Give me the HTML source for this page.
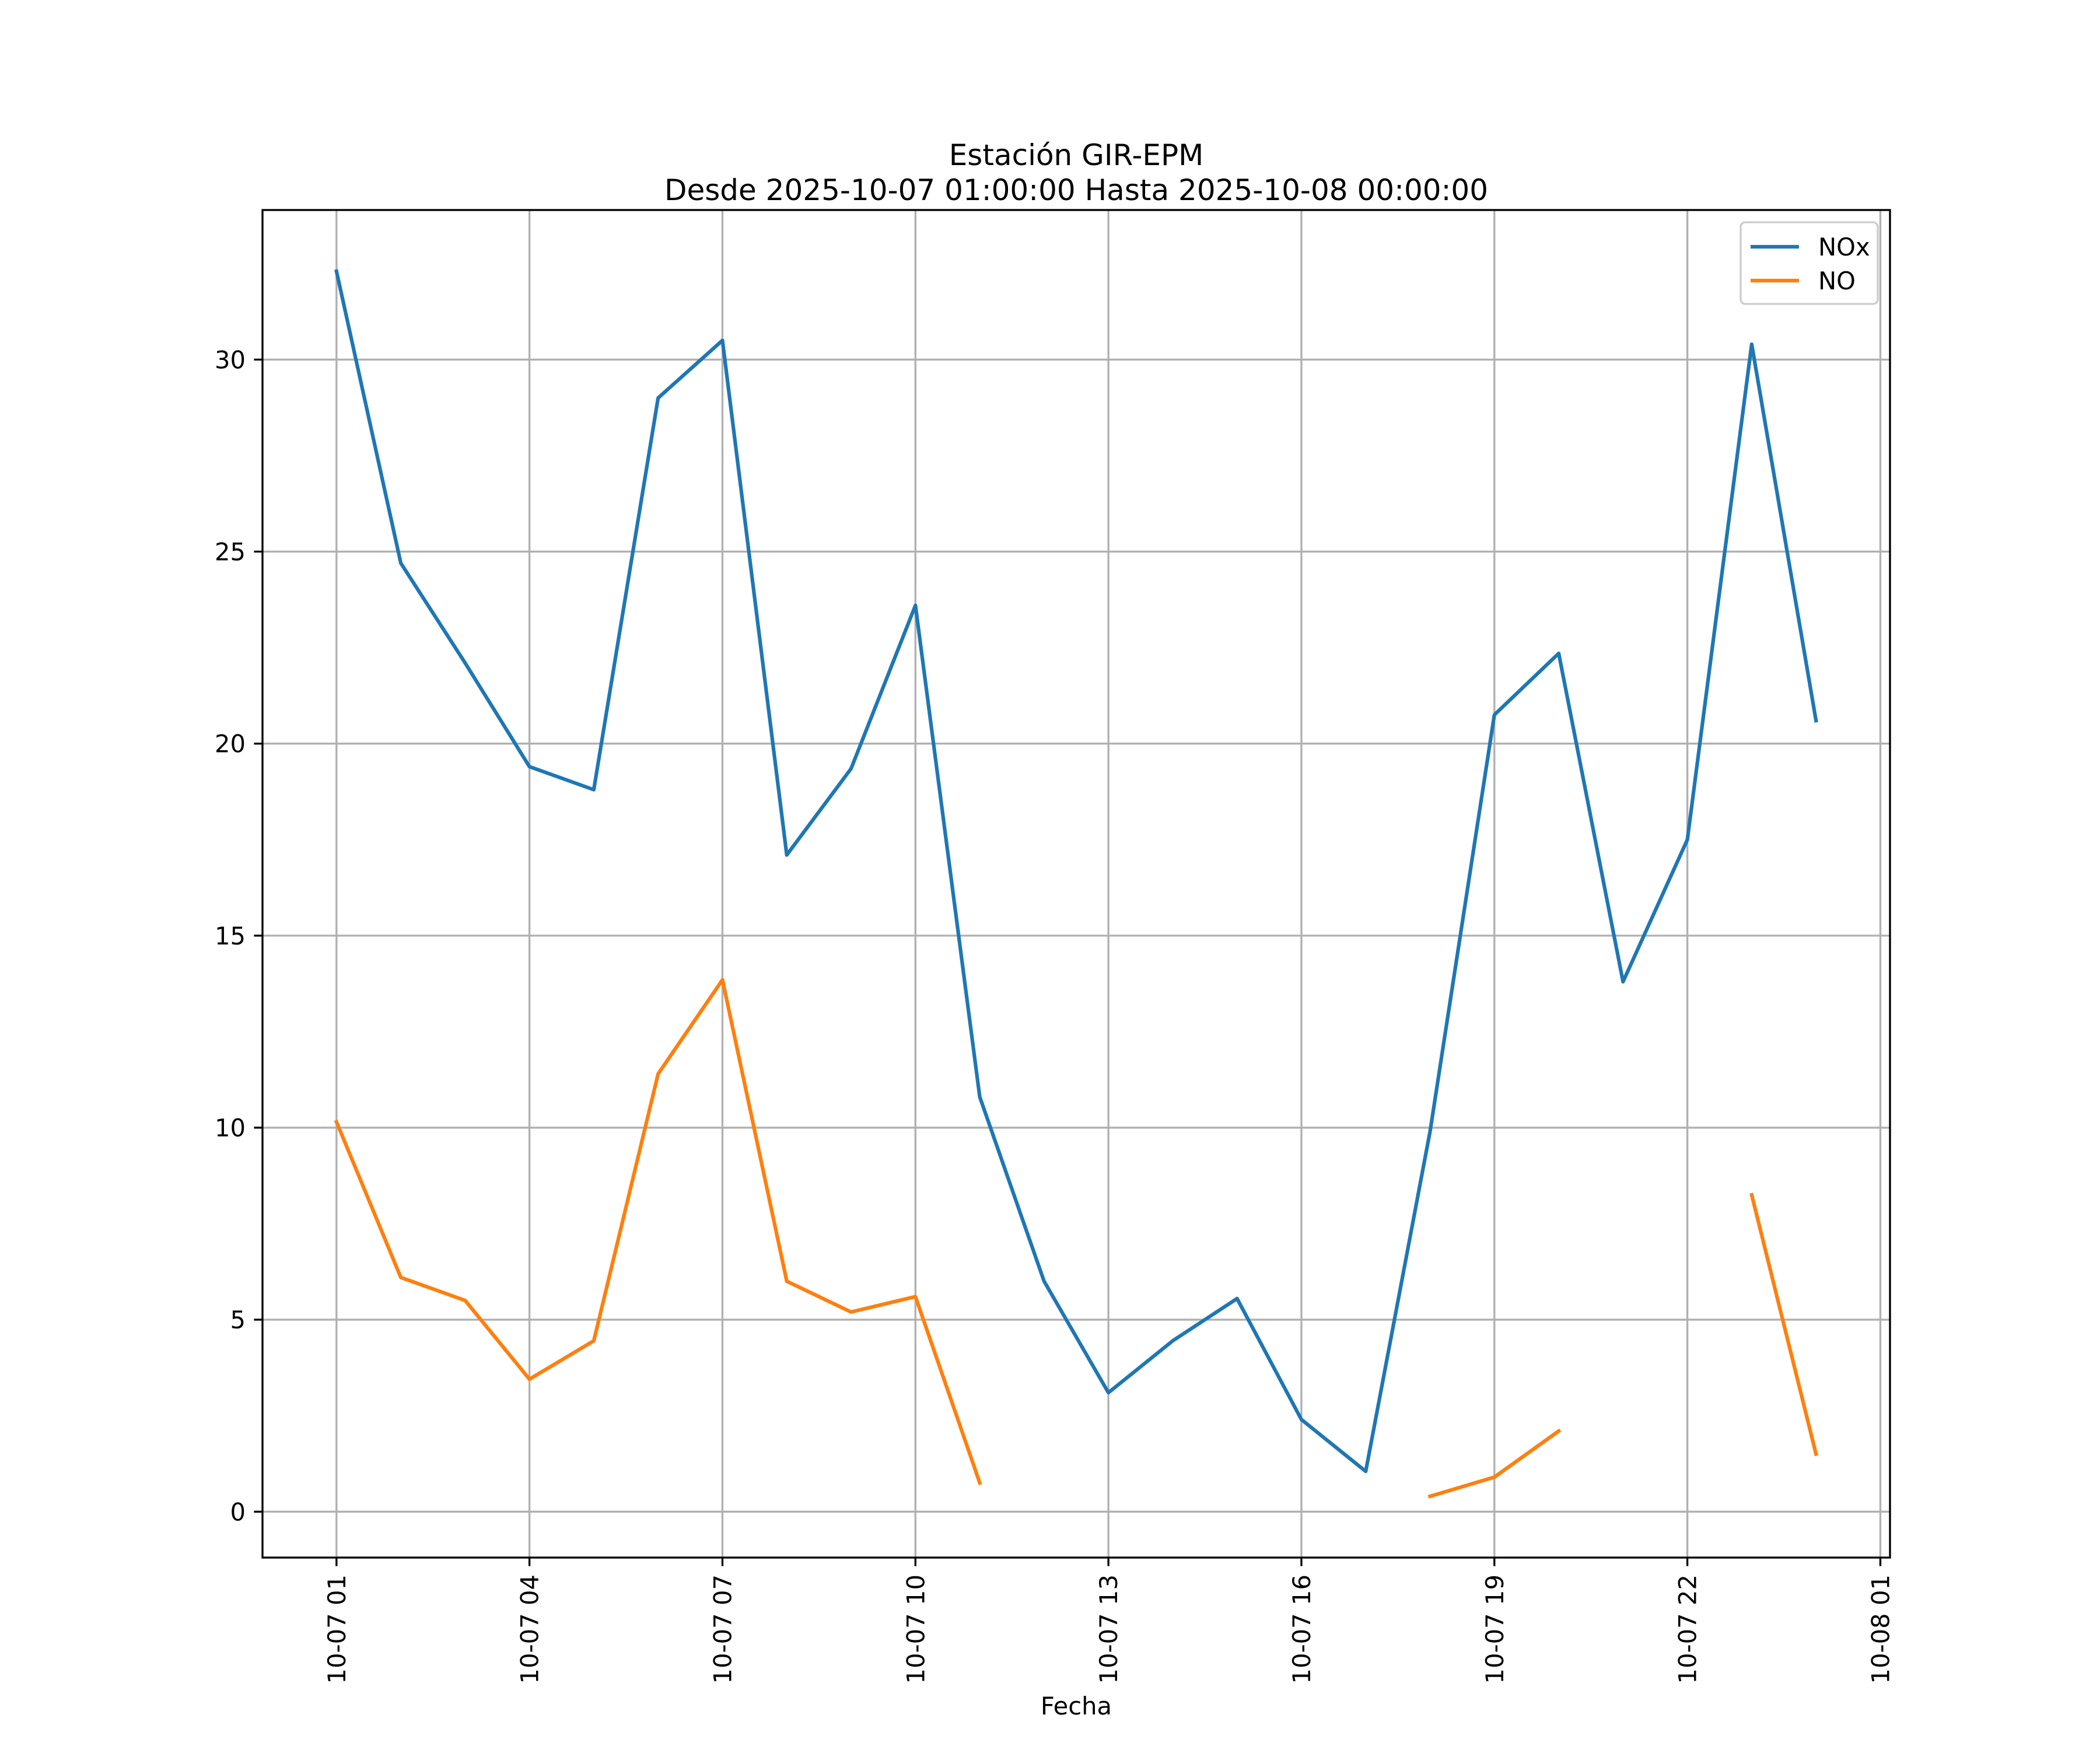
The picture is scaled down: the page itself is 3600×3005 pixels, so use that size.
<!DOCTYPE html>
<html><head><meta charset="utf-8"><style>
html,body{margin:0;padding:0;background:#fff;}
svg text{font-family:"DejaVu Sans","Liberation Sans",sans-serif;}
</style></head><body>
<svg id="chart" width="3600" height="3000" viewBox="0 0 3600 3000" xmlns="http://www.w3.org/2000/svg">
<rect width="3600" height="3000" fill="#fff"/>
<g id="grid"></g>
<g id="series"></g>
<rect x="450" y="360" width="2790" height="2310" fill="none" stroke="#000" stroke-width="3.33"/>
<g id="ticks"></g>
<text x="1845" y="283" text-anchor="middle" font-size="50">Estación GIR-EPM</text>
<text x="1845" y="343" text-anchor="middle" font-size="50">Desde 2025-10-07 01:00:00 Hasta 2025-10-08 00:00:00</text>
<text x="1845" y="2939" text-anchor="middle" font-size="41.7">Fecha</text>
<g id="legend"></g>
</svg>
<script>
const hours = [1,2,3,4,5,6,7,8,9,10,11,12,13,14,15,16,17,18,19,20,21,22,23,24];
const noxValues = [32.3,24.7,22.1,19.4,18.8,29.0,30.5,17.1,19.35,23.6,10.8,6.0,3.1,4.45,5.55,2.4,1.05,9.9,20.75,22.35,13.8,17.5,30.4,20.6];
const noValues = [10.15,6.1,5.5,3.45,4.45,11.4,13.85,6.0,5.2,5.6,0.75,null,null,null,null,null,null,0.4,0.9,2.1,null,null,8.25,1.5];
const xTickHours = [1,4,7,10,13,16,19,22,25];
const xTickLabels = ["10-07 01","10-07 04","10-07 07","10-07 10","10-07 13","10-07 16","10-07 19","10-07 22","10-08 01"];
const yTicks = [0,5,10,15,20,25,30];
const seriesNames = ["NOx","NO"];
const seriesColors = ["#1f77b4","#ff7f0e"];

const NS="http://www.w3.org/2000/svg";
const L=450,R=3240,T=360,B=2670;
const xmin=Math.min(...hours),xmax=Math.max(...hours),xm=(xmax-xmin)*0.05;
const all=noxValues.concat(noValues).filter(v=>v!==null);
const ymin=Math.min(...all),ymax=Math.max(...all),ym=(ymax-ymin)*0.05;
const x0=xmin-xm,x1=xmax+xm,y0=ymin-ym,y1=ymax+ym;
const X=h=>L+(h-x0)/(x1-x0)*(R-L);
const Y=v=>B-(v-y0)/(y1-y0)*(B-T);
function mk(tag,attrs,parent){const e=document.createElementNS(NS,tag);for(const k in attrs)e.setAttribute(k,attrs[k]);parent.appendChild(e);return e;}
const grid=document.getElementById('grid'),ticks=document.getElementById('ticks'),ser=document.getElementById('series'),leg=document.getElementById('legend');

xTickHours.forEach((h,i)=>{
  const x=X(h);
  const g=mk('line',{x1:x,x2:x,y1:T,y2:B,stroke:'#b0b0b0','stroke-width':3.33},grid);
  
  
  const t=mk('line',{x1:x,x2:x,y1:B,y2:B+14.6,stroke:'#000','stroke-width':3.33},ticks);
  
  
  const tx=mk('text',{x:0,y:0,'font-size':41.7,'text-anchor':'end','transform':`translate(${x+15},${B+29}) rotate(-90)`},ticks);
  tx.textContent=xTickLabels[i];
  
  
});
yTicks.forEach(v=>{
  const y=Y(v);
  const g=mk('line',{x1:L,x2:R,y1:y,y2:y,stroke:'#b0b0b0','stroke-width':3.33},grid);
  
  
  const t=mk('line',{x1:L-14.6,x2:L,y1:y,y2:y,stroke:'#000','stroke-width':3.33},ticks);
  
  
  const tx=mk('text',{x:L-29,y:y+15,'font-size':41.7,'text-anchor':'end'},ticks);
  tx.textContent=String(v);
  
  
});
function drawSeries(vals,color,name){
  let segs=[],cur=[];
  vals.forEach((v,i)=>{if(v===null){if(cur.length)segs.push(cur);cur=[];}else cur.push([X(hours[i]),Y(v)]);});
  if(cur.length)segs.push(cur);
  segs.forEach(s=>{
    const p=mk('polyline',{points:s.map(q=>q.join(',')).join(' '),fill:'none',stroke:color,'stroke-width':6.25,'stroke-linejoin':'round','stroke-linecap':'square'},ser);
    
    
  });
}
drawSeries(noxValues,seriesColors[0],'nox');
drawSeries(noValues,seriesColors[1],'no');

const lw=235,lh=140,lx=R-21-lw,ly=T+21;
const box=mk('rect',{x:lx,y:ly,width:lw,height:lh,rx:8,fill:'#fff','fill-opacity':0.8,stroke:'#cccccc','stroke-width':3.33},leg);


seriesNames.forEach((n,i)=>{
  const y=ly+42+i*58;
  const ln=mk('line',{x1:lx+17,x2:lx+100,y1:y,y2:y,stroke:seriesColors[i],'stroke-width':6.25},leg);
  
  
  const tx=mk('text',{x:lx+133,y:y+15,'font-size':41.7},leg);
  tx.textContent=n;
  
  
});
</script>
</body></html>
